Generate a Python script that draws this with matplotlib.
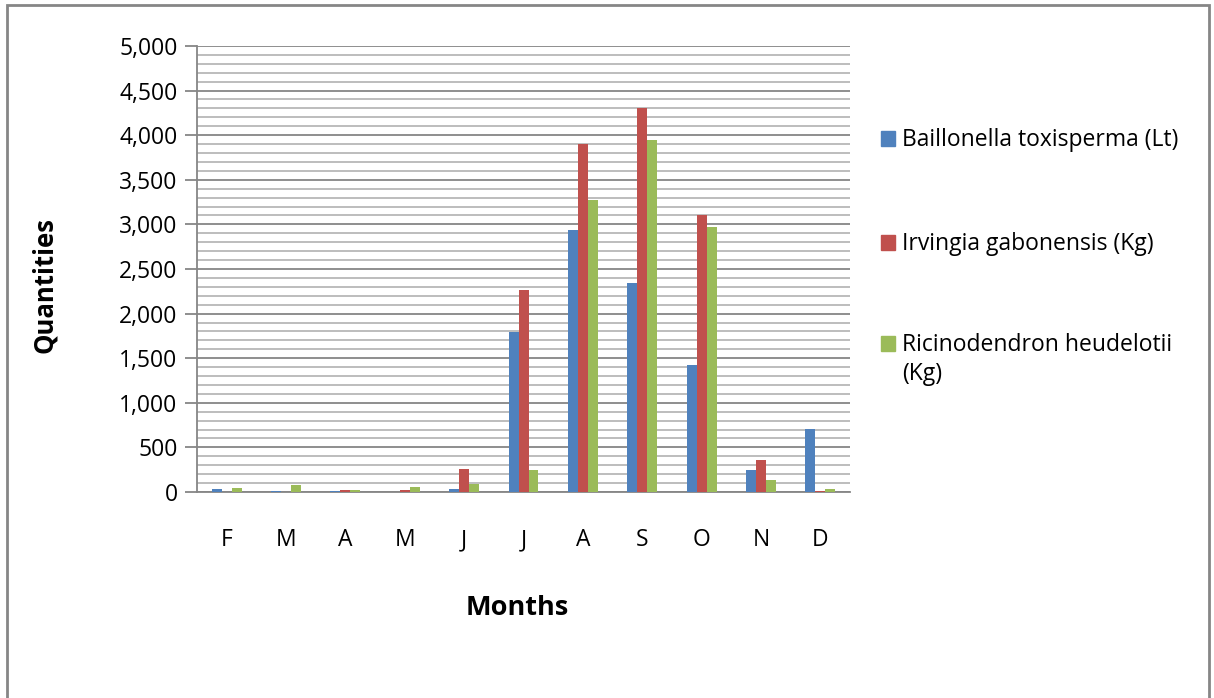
import numpy as np
import matplotlib
matplotlib.use("Agg")
import matplotlib.pyplot as plt
from matplotlib.patches import Rectangle
from matplotlib.ticker import MultipleLocator, StrMethodFormatter

plt.rcParams['font.family'] = ['Open Sans', 'DejaVu Sans']

months = ['F', 'M', 'A', 'M', 'J', 'J', 'A', 'S', 'O', 'N', 'D']
series_names = ['Baillonella toxisperma (Lt)',
                'Irvingia gabonensis (Kg)',
                'Ricinodendron heudelotii\n(Kg)']
baillonella = [30, 8, 10, 3, 30, 1790, 2935, 2340, 1425, 250, 705]
irvingia = [0, 0, 26, 19, 257, 2260, 3900, 4300, 3105, 354, 8]
ricinodendron = [42, 79, 23, 53, 91, 242, 3275, 3940, 2965, 130, 38]
colors = ['#4F81BD', '#C0504D', '#9BBB59']

fig = plt.figure(figsize=(12.14, 6.98), dpi=100)
ax = fig.add_axes([0.1623, 0.2951, 0.5379, 0.6391])

x = np.arange(len(months))
w = 0.168
for i, (vals, c) in enumerate(zip([baillonella, irvingia, ricinodendron], colors)):
    ax.bar(x + (i - 1) * w, vals, width=w, color=c, zorder=3)

ax.set_xlim(-0.5, len(months) - 0.5)
ax.set_ylim(0, 5000)
ax.yaxis.set_major_locator(MultipleLocator(500))
ax.yaxis.set_minor_locator(MultipleLocator(100))
ax.yaxis.set_major_formatter(StrMethodFormatter('{x:,.0f}'))
ax.grid(which='major', axis='y', color='#868686', lw=1.3, zorder=1)
ax.grid(which='minor', axis='y', color='#b8b8b8', lw=1.3, zorder=1)

ax.set_xticks(x)
ax.set_xticklabels(months)
for s in ['top', 'right']:
    ax.spines[s].set_visible(False)
for s in ['left', 'bottom']:
    ax.spines[s].set_color('#868686')
    ax.spines[s].set_linewidth(1.3)
ax.tick_params(axis='y', which='major', length=9, width=1.3, color='#868686',
               labelsize=16.5, pad=5)
ax.tick_params(axis='y', which='minor', length=0)
ax.tick_params(axis='x', length=0, labelsize=16.5, pad=26)

ax.set_xlabel('Months', fontsize=19.5, fontweight='bold', labelpad=31)
ax.xaxis.label.set_x(0.49)
fig.text(0.037, 0.591, 'Quantities', rotation=90, fontsize=18.5,
         fontweight='bold', ha='center', va='center')

# legend, drawn by hand so the marker sits on the first line of text
leg_base = [146, 250, 351]
for name, c, yy in zip(series_names, colors, leg_base):
    fy = 1 - yy / 698
    fig.add_artist(Rectangle((881 / 1214, fy), 14 / 1214, 15 / 698,
                             transform=fig.transFigure, color=c))
    lines = name.split('\n')
    for k, line in enumerate(lines):
        fig.text(902 / 1214, fy - k * 29 / 698, line, fontsize=16.5,
                 va='baseline')

# outer frame
fig.add_artist(Rectangle((7 / 1214, -0.05), 1202 / 1214, 1.05 - 5 / 698,
                         transform=fig.transFigure, fill=False,
                         edgecolor='#868686', lw=2))

fig.savefig('out.png', dpi=100)
